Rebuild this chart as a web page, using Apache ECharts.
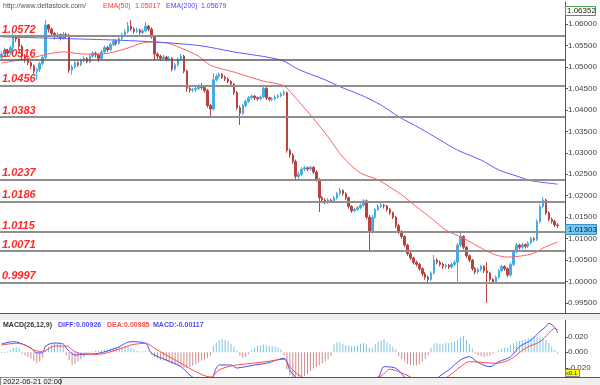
<!DOCTYPE html>
<html><head><meta charset="utf-8">
<script src="https://cdn.jsdelivr.net/npm/echarts@6/dist/echarts.min.js"></script>
<style>html,body{margin:0;padding:0;background:#fff}#c{width:600px;height:385px}</style>
</head><body><div id="c"></div>
<script>
// ---- price candles (190) ----
const opens=[1.0522,1.0530,1.0538,1.0532,1.0545,1.0570,1.0565,1.0548,1.0525,1.0518,
1.0510,1.0502,1.0490,1.0494,1.0508,1.0522,1.0598,1.0588,1.0578,1.0570,
1.0575,1.0568,1.0576,1.0572,1.0492,1.0500,1.0510,1.0505,1.0515,1.0520,
1.0512,1.0525,1.0532,1.0528,1.0520,1.0535,1.0545,1.0540,1.0552,1.0560,
1.0555,1.0566,1.0575,1.0582,1.0595,1.0588,1.0583,1.0586,1.0580,1.0584,
1.0595,1.0588,1.0570,1.0530,1.0525,1.0520,1.0523,1.0518,1.0520,1.0495,
1.0505,1.0518,1.0525,1.0490,1.0450,1.0446,1.0447,1.0450,1.0455,1.0452,
1.0445,1.0410,1.0402,1.0470,1.0478,1.0483,1.0476,1.0472,1.0466,1.0460,
1.0440,1.0405,1.0392,1.0410,1.0420,1.0428,1.0432,1.0428,1.0426,1.0430,
1.0450,1.0428,1.0425,1.0426,1.0430,1.0433,1.0437,1.0440,1.0306,1.0295,
1.0280,1.0245,1.0250,1.0262,1.0265,1.0262,1.0266,1.0255,1.0238,1.0195,
1.0190,1.0185,1.0190,1.0188,1.0195,1.0205,1.0212,1.0205,1.0195,1.0175,
1.0165,1.0168,1.0172,1.0178,1.0188,1.0150,1.0118,1.0150,1.0168,1.0175,
1.0178,1.0176,1.0168,1.0160,1.0150,1.0130,1.0116,1.0105,1.0085,1.0065,
1.0055,1.0045,1.0040,1.0030,1.0018,1.0010,1.0005,1.0020,1.0050,1.0045,
1.0040,1.0035,1.0038,1.0034,1.0040,1.0045,1.0085,1.0105,1.0080,1.0060,
1.0050,1.0030,1.0022,1.0028,1.0035,1.0025,1.0020,1.0005,0.9998,1.0010,
1.0025,1.0035,1.0030,1.0015,1.0040,1.0070,1.0085,1.0080,1.0086,1.0082,
1.0090,1.0100,1.0098,1.0140,1.0175,1.0190,1.0160,1.0145,1.0140,1.0132];
const closes=[1.0530,1.0538,1.0532,1.0545,1.0570,1.0565,1.0548,1.0525,1.0518,1.0510,
1.0502,1.0490,1.0494,1.0508,1.0522,1.0598,1.0588,1.0578,1.0570,1.0575,
1.0568,1.0576,1.0572,1.0492,1.0500,1.0510,1.0505,1.0515,1.0520,1.0512,
1.0525,1.0532,1.0528,1.0520,1.0535,1.0545,1.0540,1.0552,1.0560,1.0555,
1.0566,1.0575,1.0582,1.0595,1.0588,1.0583,1.0586,1.0580,1.0584,1.0595,
1.0588,1.0570,1.0530,1.0525,1.0520,1.0523,1.0518,1.0520,1.0495,1.0505,
1.0518,1.0525,1.0490,1.0450,1.0446,1.0447,1.0450,1.0455,1.0452,1.0445,
1.0410,1.0402,1.0470,1.0478,1.0483,1.0476,1.0472,1.0466,1.0460,1.0440,
1.0405,1.0392,1.0410,1.0420,1.0428,1.0432,1.0428,1.0426,1.0430,1.0450,
1.0428,1.0425,1.0426,1.0430,1.0433,1.0437,1.0440,1.0306,1.0295,1.0280,
1.0245,1.0250,1.0262,1.0265,1.0262,1.0266,1.0255,1.0238,1.0195,1.0190,
1.0185,1.0190,1.0188,1.0195,1.0205,1.0212,1.0205,1.0195,1.0175,1.0165,
1.0168,1.0172,1.0178,1.0188,1.0150,1.0118,1.0150,1.0168,1.0175,1.0178,
1.0176,1.0168,1.0160,1.0150,1.0130,1.0116,1.0105,1.0085,1.0065,1.0055,
1.0045,1.0040,1.0030,1.0018,1.0010,1.0005,1.0020,1.0050,1.0045,1.0040,
1.0035,1.0038,1.0034,1.0040,1.0045,1.0085,1.0105,1.0080,1.0060,1.0050,
1.0030,1.0022,1.0028,1.0035,1.0025,1.0020,1.0005,0.9998,1.0010,1.0025,
1.0035,1.0030,1.0015,1.0040,1.0070,1.0085,1.0080,1.0086,1.0082,1.0090,
1.0100,1.0098,1.0140,1.0175,1.0190,1.0160,1.0145,1.0140,1.0132,1.01303];
const highs=[1.0536,1.0545,1.0542,1.0550,1.0580,1.0574,1.0568,1.0552,1.0530,1.0522,
1.0514,1.0506,1.0498,1.0512,1.0528,1.0610,1.0600,1.0592,1.0582,1.0580,
1.0578,1.0582,1.0580,1.0578,1.0505,1.0514,1.0513,1.0519,1.0525,1.0523,
1.0530,1.0537,1.0536,1.0532,1.0540,1.0550,1.0549,1.0557,1.0565,1.0564,
1.0571,1.0580,1.0588,1.0605,1.0609,1.0592,1.0591,1.0589,1.0588,1.0605,
1.0598,1.0592,1.0574,1.0534,1.0529,1.0528,1.0526,1.0525,1.0523,1.0510,
1.0522,1.0530,1.0528,1.0494,1.0453,1.0451,1.0454,1.0460,1.0462,1.0456,
1.0449,1.0414,1.0485,1.0483,1.0487,1.0486,1.0480,1.0475,1.0469,1.0463,
1.0444,1.0410,1.0414,1.0424,1.0432,1.0436,1.0435,1.0431,1.0434,1.0458,
1.0453,1.0431,1.0430,1.0434,1.0437,1.0441,1.0446,1.0443,1.0310,1.0299,
1.0284,1.0256,1.0266,1.0269,1.0268,1.0270,1.0269,1.0259,1.0241,1.0199,
1.0194,1.0194,1.0193,1.0199,1.0209,1.0218,1.0215,1.0208,1.0198,1.0178,
1.0172,1.0176,1.0182,1.0192,1.0191,1.0155,1.0155,1.0172,1.0180,1.0183,
1.0181,1.0179,1.0171,1.0163,1.0153,1.0134,1.0120,1.0108,1.0088,1.0069,
1.0058,1.0049,1.0043,1.0033,1.0022,1.0014,1.0024,1.0062,1.0054,1.0049,
1.0044,1.0042,1.0041,1.0044,1.0050,1.0090,1.0118,1.0108,1.0083,1.0063,
1.0053,1.0034,1.0032,1.0039,1.0038,1.0045,1.0023,1.0008,1.0014,1.0029,
1.0039,1.0038,1.0033,1.0044,1.0074,1.0090,1.0088,1.0090,1.0089,1.0094,
1.0104,1.0104,1.0145,1.0180,1.0197,1.0193,1.0163,1.0149,1.0144,1.0136];
const lows=[1.0518,1.0526,1.0524,1.0528,1.0535,1.0558,1.0540,1.0515,1.0510,1.0504,
1.0495,1.0484,1.0470,1.0488,1.0504,1.0518,1.0580,1.0572,1.0564,1.0566,
1.0562,1.0564,1.0566,1.0486,1.0482,1.0496,1.0500,1.0502,1.0511,1.0508,
1.0509,1.0521,1.0522,1.0512,1.0516,1.0531,1.0535,1.0537,1.0548,1.0550,
1.0552,1.0562,1.0571,1.0578,1.0584,1.0578,1.0579,1.0575,1.0576,1.0580,
1.0583,1.0566,1.0515,1.0519,1.0514,1.0516,1.0513,1.0514,1.0490,1.0491,
1.0501,1.0514,1.0485,1.0442,1.0440,1.0441,1.0442,1.0446,1.0447,1.0440,
1.0405,1.0381,1.0398,1.0466,1.0474,1.0472,1.0467,1.0462,1.0455,1.0435,
1.0400,1.0365,1.0388,1.0406,1.0416,1.0424,1.0423,1.0421,1.0422,1.0427,
1.0423,1.0420,1.0420,1.0422,1.0426,1.0429,1.0433,1.0300,1.0288,1.0274,
1.0237,1.0238,1.0246,1.0257,1.0257,1.0258,1.0250,1.0233,1.0162,1.0185,
1.0180,1.0181,1.0183,1.0184,1.0191,1.0201,1.0200,1.0190,1.0170,1.0160,
1.0161,1.0164,1.0168,1.0174,1.0145,1.0069,1.0112,1.0146,1.0164,1.0171,
1.0170,1.0163,1.0155,1.0145,1.0125,1.0110,1.0100,1.0080,1.0060,1.0050,
1.0040,1.0035,1.0025,1.0012,1.0004,0.9997,1.0001,1.0016,1.0040,1.0035,
1.0030,1.0030,1.0029,1.0030,1.0036,1.0000,1.0080,1.0075,1.0055,1.0045,
1.0025,1.0017,1.0018,1.0024,1.0020,0.9950,1.0000,0.9994,0.9995,1.0006,
1.0021,1.0025,1.0010,1.0011,1.0036,1.0066,1.0075,1.0076,1.0077,1.0078,
1.0086,1.0093,1.0094,1.0136,1.0170,1.0155,1.0140,1.0135,1.0127,1.0125];

// ---- moving averages [candle index, value] ----
const ema50=[[0,1.0509],[10,1.0521],[21,1.0535],[28,1.0530],[34,1.0530],[42,1.0542],[50,1.0558],[56,1.0556],[61,1.0544],[67,1.0525],[71,1.0504],[79,1.0488],[89,1.0467],[96,1.0456],[99,1.0435],[105,1.0388],[111,1.0337],[116,1.0290],[122,1.0253],[128,1.0237],[132,1.0220],[136,1.0202],[142,1.0169],[146,1.0148],[151,1.0120],[157,1.0101],[163,1.0078],[168,1.0062],[172,1.0057],[176,1.0059],[181,1.0066],[184,1.0078],[189,1.0092]];
const ema200=[[0,1.0570],[37,1.0563],[50,1.0559],[67,1.0550],[79,1.0535],[95,1.0516],[101,1.0494],[110,1.0470],[115,1.0454],[122,1.0435],[129,1.0411],[135,1.0384],[142,1.0358],[149,1.0330],[155,1.0306],[163,1.0283],[169,1.0260],[175,1.0246],[180,1.0235],[189,1.0227]];

// ---- MACD panel ----
const macdHist=[-0.001,-0.001,0.001,0.003,0.006,0.007,0.006,-0.002,-0.004,-0.006,
-0.008,-0.011,-0.014,-0.012,-0.007,0.003,0.007,0.010,0.012,0.012,
0.011,0.008,-0.004,-0.010,-0.016,-0.015,-0.012,-0.009,-0.006,-0.003,
-0.001,0.001,0.002,0.002,0.003,0.004,0.004,0.005,0.006,0.006,
0.007,0.007,0.008,0.008,0.006,0.004,0.002,0.001,0.001,0.002,
0.001,-0.003,-0.006,-0.008,-0.010,-0.011,-0.012,-0.013,-0.015,-0.016,
-0.017,-0.018,-0.020,-0.020,-0.019,-0.017,-0.015,-0.013,-0.011,-0.009,
-0.007,-0.004,0.008,0.013,0.016,0.017,0.016,0.014,0.011,0.007,
0.002,-0.004,-0.007,-0.006,-0.003,0.003,0.006,0.008,0.009,0.010,
0.009,0.008,0.008,0.007,0.006,0.004,-0.004,-0.022,-0.030,-0.034,
-0.035,-0.034,-0.033,-0.031,-0.028,-0.024,-0.021,-0.019,-0.017,-0.014,
-0.012,-0.009,-0.005,0.010,0.013,0.013,0.011,0.009,0.009,0.008,
0.008,0.009,0.011,0.012,0.010,0.006,0.006,0.011,0.014,0.015,
0.017,0.013,0.010,0.007,0.004,-0.005,-0.009,-0.012,-0.015,-0.016,
-0.017,-0.017,-0.015,-0.012,-0.008,-0.004,0.006,0.011,0.012,0.011,
0.011,0.012,0.012,0.013,0.014,0.017,0.019,0.021,0.016,0.011,
0.005,-0.002,-0.004,-0.005,-0.006,-0.005,-0.004,-0.002,0.001,0.003,
0.005,0.006,0.006,0.009,0.012,0.014,0.015,0.016,0.017,0.018,
0.019,0.020,0.020,0.020,0.019,0.016,0.012,0.007,0.003,-0.002];
const diffLine=[[0,0.0107],[4,0.0137],[6,0.0124],[10,0.0055],[12,-0.0009],[14,-0.0005],[15,0.0081],[18,0.0120],[21,0.0107],[22,0.0055],[25,-0.0035],[28,-0.0026],[33,-0.0013],[39,0.0055],[44,0.0137],[49,0.0116],[51,-0.0013],[56,-0.0099],[61,-0.0186],[64,-0.0293],[67,-0.0360],[71,-0.0360],[73,-0.0203],[74,-0.0164],[78,-0.0164],[80,-0.0203],[83,-0.0186],[86,-0.0164],[90,-0.0142],[96,-0.0077],[98,-0.0228],[100,-0.0319],[110,-0.0550],[120,-0.0450],[128,-0.0319],[130,-0.0186],[134,-0.0206],[137,-0.0319],[143,-0.0500],[149,-0.0306],[152,-0.0228],[156,-0.0099],[159,-0.0057],[162,-0.0134],[166,-0.0186],[169,-0.0121],[173,-0.0057],[176,0.0072],[180,0.0159],[183,0.0270],[185,0.0330],[186,0.0374],[188,0.0323],[189,0.0249]];
const deaLine=[[0,0.0094],[5,0.0116],[8,0.0094],[11,0.0030],[14,0.0008],[18,0.0081],[22,0.0081],[25,0.0008],[28,-0.0022],[33,-0.0026],[39,0.0030],[44,0.0094],[49,0.0116],[52,0.0052],[56,-0.0035],[61,-0.0142],[66,-0.0250],[71,-0.0319],[74,-0.0228],[78,-0.0177],[83,-0.0151],[90,-0.0121],[96,-0.0090],[98,-0.0186],[101,-0.0293],[110,-0.0450],[120,-0.0420],[129,-0.0306],[132,-0.0219],[135,-0.0250],[139,-0.0319],[145,-0.0450],[152,-0.0306],[156,-0.0186],[159,-0.0121],[163,-0.0129],[168,-0.0142],[173,-0.0090],[178,0.0052],[183,0.0137],[186,0.0245],[188,0.0310],[189,0.0288]];

// ---- levels and ticks ----
const levels=[1.0572,1.0516,1.0456,1.0383,1.0237,1.0186,1.0115,1.0071,0.9997];
const priceTicks=[0.995,1.000,1.005,1.010,1.015,1.020,1.025,1.030,1.035,1.040,1.045,1.050,1.055,1.060];
const macdTicks=[-0.02,0,0.02];
const highMark=1.06352, lastMark=1.01303;
const slotCount=192;
const categories=Array.from({length:slotCount},(_,i)=>String(i));

const candles=closes.map((c,i)=>[opens[i],c,lows[i],highs[i]]);
const UP='#46abe4', DOWN='#b8423f';
const FONT='Liberation Sans';

const chart=echarts.init(document.getElementById('c'),null,{renderer:'canvas'});
chart.setOption({
  animation:false,
  backgroundColor:'#ffffff',
  grid:[{left:0,right:35,top:2,height:311},{left:0,right:35,top:320,height:57}],
  xAxis:[
    {type:'category',data:categories,gridIndex:0,show:false},
    {type:'category',data:categories,gridIndex:1,show:false}
  ],
  yAxis:[
    {type:'value',gridIndex:0,position:'right',min:0.99267,max:1.06513,scale:true,
     splitLine:{show:false},
     axisLine:{show:true,lineStyle:{color:'#555',width:1}},
     axisTick:{show:true,length:3,customValues:priceTicks,lineStyle:{color:'#555'}},
     axisLabel:{customValues:priceTicks,formatter:v=>v.toFixed(5),fontSize:8,fontFamily:FONT,color:'#444',margin:3}},
    {type:'value',gridIndex:1,position:'right',min:-0.0319,max:0.0417,
     splitLine:{show:false},
     axisLine:{show:true,lineStyle:{color:'#555',width:1}},
     axisTick:{show:true,length:3,customValues:macdTicks,lineStyle:{color:'#555'}},
     axisLabel:{customValues:macdTicks,formatter:v=>v.toFixed(3),fontSize:8,fontFamily:FONT,color:'#444',margin:3}}
  ],
  series:[
    {type:'candlestick',xAxisIndex:0,yAxisIndex:0,data:candles,barWidth:2,
     itemStyle:{color:UP,color0:DOWN,borderColor:UP,borderColor0:DOWN,borderWidth:1},
     markLine:{silent:true,symbol:['none','none'],animation:false,precision:5,
       lineStyle:{color:'#8f8f8f',width:2,type:'solid'},
       label:{position:'insideStartTop',distance:[2,1],formatter:p=>Number(p.value).toFixed(4),
         color:'#ff2a2a',fontStyle:'italic',fontWeight:'bold',fontSize:11,fontFamily:FONT},
       emphasis:{disabled:true},
       data:levels.map(v=>({yAxis:v,lineStyle:v===1.0516?{color:'#5a5a5a',width:1.5}:undefined}))}},
    {type:'line',xAxisIndex:0,yAxisIndex:0,data:ema50,showSymbol:false,smooth:0.3,
     lineStyle:{color:'#ff6060',width:1},z:3},
    {type:'line',xAxisIndex:0,yAxisIndex:0,data:ema200,showSymbol:false,smooth:0.3,
     lineStyle:{color:'#5c5cff',width:1},z:3},
    {type:'bar',xAxisIndex:1,yAxisIndex:1,data:macdHist,barWidth:1,
     itemStyle:{color:p=>p.value>=0?'#7cc3e6':'#cf8a8a'}},
    {type:'line',xAxisIndex:1,yAxisIndex:1,data:diffLine,showSymbol:false,smooth:0.3,
     lineStyle:{color:'#4b4bff',width:1},z:3},
    {type:'line',xAxisIndex:1,yAxisIndex:1,data:deaLine,showSymbol:false,smooth:0.3,
     lineStyle:{color:'#ff4b4b',width:1},z:3}
  ]
});

const yHigh=chart.convertToPixel({yAxisIndex:0},highMark);
const yLast=chart.convertToPixel({yAxisIndex:0},lastMark);
function txt(x,y,s,fill,font,extra){return Object.assign({type:'text',x:x,y:y,silent:true,z:100,style:{text:s,fill:fill,font:font,textVerticalAlign:'middle'}},extra||{});}
chart.setOption({graphic:[
  {type:'rect',shape:{x:0,y:313,width:600,height:7},style:{fill:'#f0f0f0',stroke:null},silent:true,z:50},
  {type:'line',shape:{x1:0,y1:313.5,x2:600,y2:313.5},style:{stroke:'#555',lineWidth:1},silent:true,z:51},
  {type:'rect',shape:{x:0,y:377,width:600,height:8},style:{fill:'#f0f0f0',stroke:null},silent:true,z:50},
  {type:'line',shape:{x1:0,y1:377.5,x2:600,y2:377.5},style:{stroke:'#555',lineWidth:1},silent:true,z:51},
  {type:'rect',shape:{x:0.5,y:377.5,width:60,height:8},style:{fill:'#f3f3f3',stroke:'#7a9a7a',lineWidth:1},silent:true,z:52},
  txt(3,381.5,'2022-06-21 02:00','#222','7.5px '+FONT),
  txt(3,6,'http://www.deltastock.com/','#555','7px '+FONT),
  txt(103,6,'EMA(50)','#ff3030','7px '+FONT),
  txt(135,6,'1.05017','#ff3030','7px '+FONT),
  txt(166,6,'EMA(200)','#4a4aff','7px '+FONT),
  txt(201,6,'1.05679','#4a4aff','7px '+FONT),
  txt(3,325,'MACD(26,12,9)','#333','bold 7px '+FONT),
  txt(58,325,'DIFF:0.00926','#4a4aff','bold 7px '+FONT),
  txt(107,325,'DEA:0.00985','#ff4a4a','bold 7px '+FONT),
  txt(153,325,'MACD:-0.00117','#4a4aff','bold 7px '+FONT),
  {type:'rect',shape:{x:565.5,y:Math.round(yHigh)-2.5,width:30,height:9},style:{fill:'#ffffff',stroke:'#44a044',lineWidth:1},silent:true,z:60},
  txt(567,Math.round(yHigh)+2,'1.06352','#222','8px '+FONT,{z:61}),
  {type:'rect',shape:{x:565.5,y:Math.round(yLast)-1.5,width:31,height:10},style:{fill:'#74c4ef',stroke:'#3b8fc4',lineWidth:1},silent:true,z:60},
  txt(568,Math.round(yLast)+3.5,'1.01303','#102030','8px '+FONT,{z:61}),
  {type:'rect',shape:{x:565.5,y:369.5,width:14,height:7},style:{fill:'#ffff00',stroke:'#888',lineWidth:1},silent:true,z:60},
  txt(566,373,'x0.1','#222','6px '+FONT,{z:61})
]});
</script>
</body></html>
